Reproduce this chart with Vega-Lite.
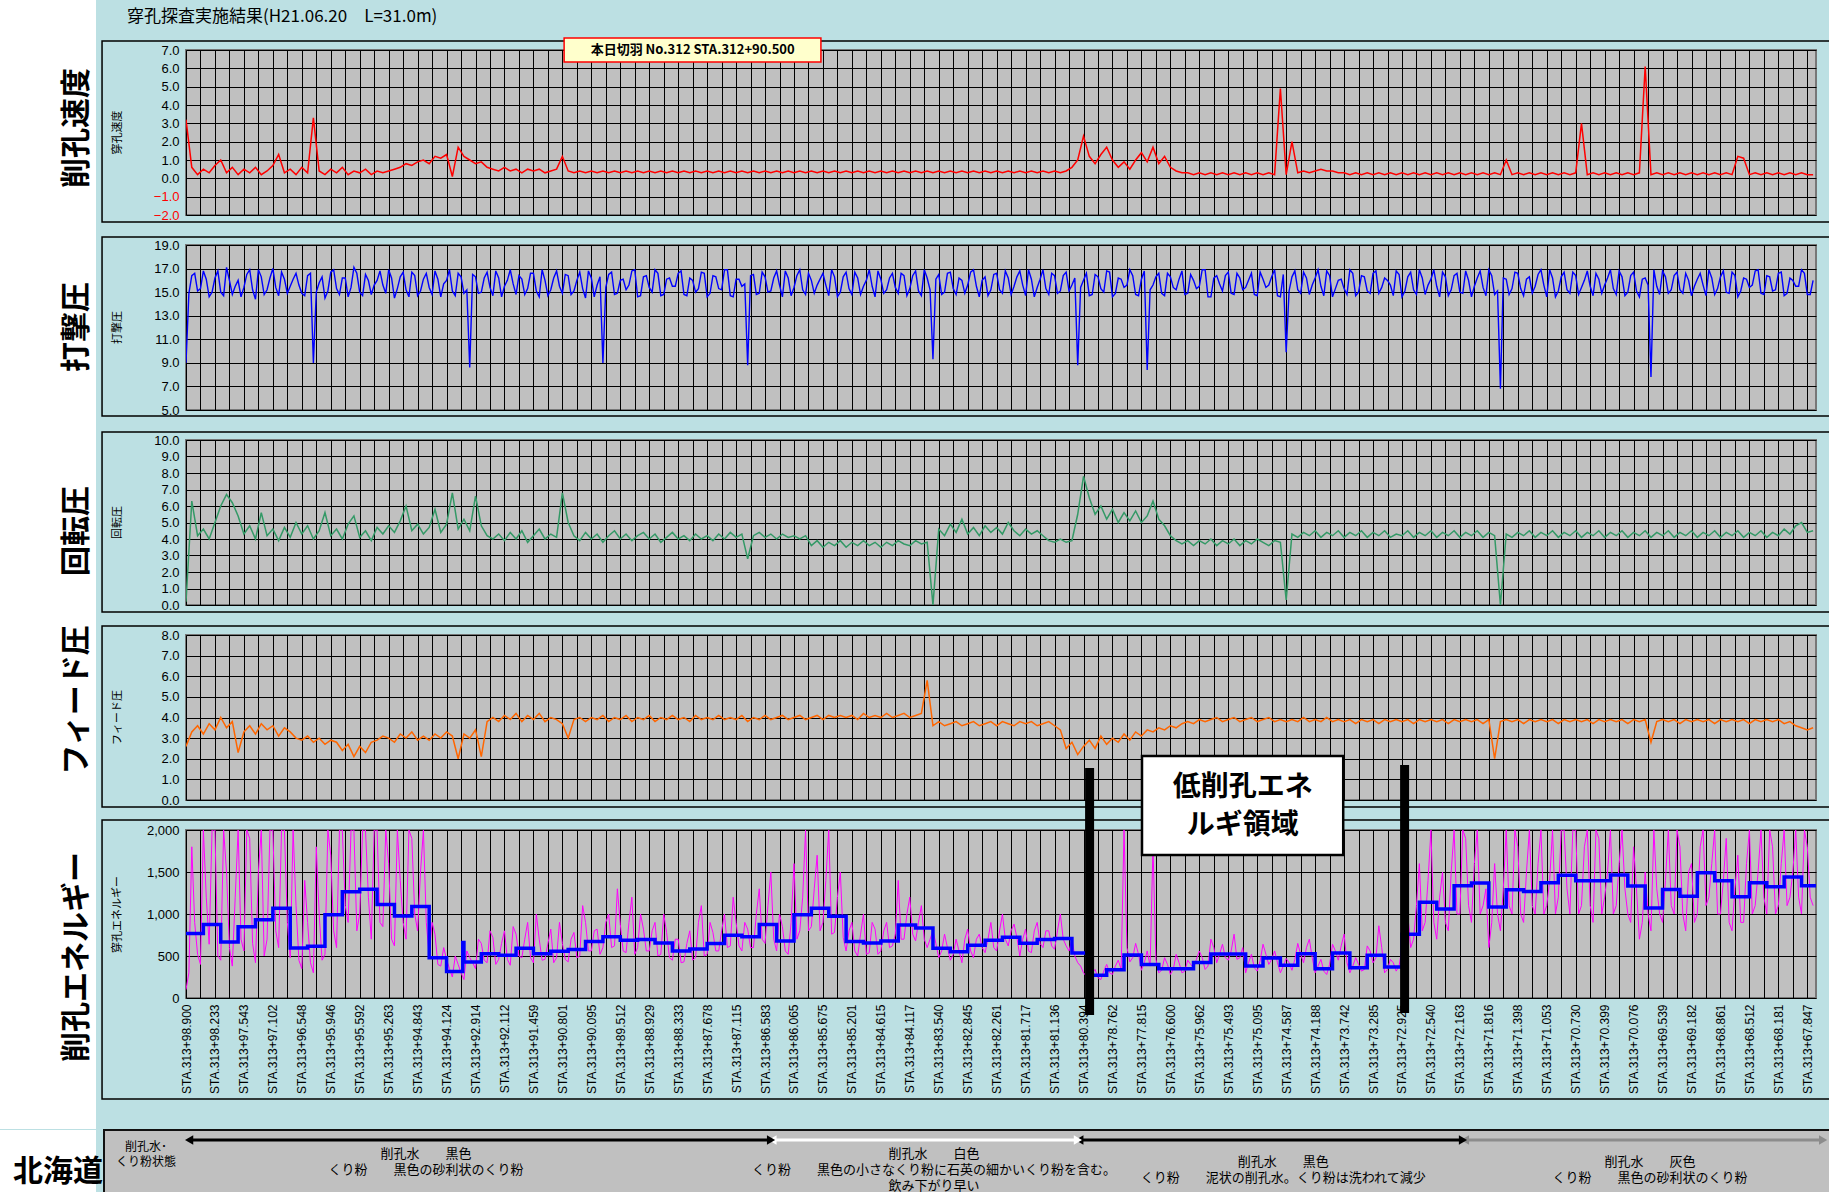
{
"$schema": "https://vega.github.io/schema/vega-lite/v6.json",
"background": "#bce0e3",
"padding": 0,
"config": {"view": {"stroke": null}, "axis": {"labelFont": "Liberation Sans", "titleFont": "Noto Sans CJK JP"}, "axisY": {"labelOverlap": false, "tickCount": 20}, "text": {"font": "Noto Sans CJK JP"}, "title": {"font": "Noto Sans CJK JP"}},
"datasets": {
"d": [
{"i":0,"s":3.2,"p":9.0,"r":0.2,"f":2.6,"e":100},
{"i":0.2,"s":0.6,"p":16.4,"r":6.3,"f":3.3,"e":1800},
{"i":0.4,"s":0.2,"p":15.1,"r":4.2,"f":3.6,"e":520},
{"i":0.6,"s":0.5,"p":16.8,"r":4.6,"f":3.2,"e":2000},
{"i":0.8,"s":0.3,"p":14.6,"r":4.0,"f":3.7,"e":640},
{"i":1,"s":0.7,"p":16.2,"r":5.0,"f":3.4,"e":2000},
{"i":1.2,"s":1.0,"p":15.0,"r":6.0,"f":4.0,"e":450},
{"i":1.4,"s":0.3,"p":17.1,"r":6.7,"f":3.5,"e":1500},
{"i":1.6,"s":0.6,"p":14.8,"r":6.2,"f":3.8,"e":380},
{"i":1.8,"s":0.2,"p":16.0,"r":5.4,"f":2.3,"e":2000},
{"i":2,"s":0.5,"p":15.4,"r":4.3,"f":3.3,"e":560},
{"i":2.2,"s":0.3,"p":16.9,"r":4.8,"f":3.6,"e":1900},
{"i":2.4,"s":0.6,"p":14.4,"r":4.0,"f":3.2,"e":420},
{"i":2.6,"s":0.2,"p":16.3,"r":5.6,"f":3.7,"e":2000},
{"i":2.8,"s":0.4,"p":15.2,"r":4.2,"f":3.4,"e":700},
{"i":3,"s":0.7,"p":17.0,"r":4.6,"f":3.6,"e":2000},
{"i":3.2,"s":1.3,"p":14.7,"r":3.9,"f":3.1,"e":600},
{"i":3.4,"s":0.3,"p":16.1,"r":4.7,"f":3.5,"e":2000},
{"i":3.6,"s":0.5,"p":15.5,"r":4.1,"f":3.3,"e":480},
{"i":3.8,"s":0.2,"p":16.6,"r":5.0,"f":3.0,"e":1100},
{"i":4,"s":0.6,"p":14.9,"r":4.3,"f":2.9,"e":350},
{"i":4.2,"s":0.3,"p":16.4,"r":4.8,"f":3.1,"e":900},
{"i":4.4,"s":3.3,"p":9.0,"r":4.0,"f":2.8,"e":300},
{"i":4.6,"s":0.4,"p":15.8,"r":4.5,"f":3.0,"e":1000},
{"i":4.8,"s":0.2,"p":14.5,"r":5.6,"f":2.7,"e":520},
{"i":5,"s":0.5,"p":16.7,"r":4.2,"f":2.9,"e":1700},
{"i":5.2,"s":0.3,"p":15.3,"r":4.6,"f":2.8,"e":600},
{"i":5.4,"s":0.6,"p":16.2,"r":4.0,"f":2.4,"e":2000},
{"i":5.6,"s":0.2,"p":14.6,"r":4.9,"f":2.7,"e":900},
{"i":5.8,"s":0.4,"p":17.1,"r":5.4,"f":2.1,"e":2000},
{"i":6,"s":0.3,"p":15.0,"r":4.1,"f":2.6,"e":1000},
{"i":6.2,"s":0.5,"p":16.5,"r":4.5,"f":2.3,"e":2000},
{"i":6.4,"s":0.2,"p":14.8,"r":3.9,"f":2.8,"e":700},
{"i":6.6,"s":0.4,"p":16.0,"r":4.7,"f":2.9,"e":2000},
{"i":6.8,"s":0.3,"p":15.6,"r":4.3,"f":3.1,"e":850},
{"i":7,"s":0.4,"p":16.9,"r":4.8,"f":3.0,"e":1600},
{"i":7.2,"s":0.5,"p":14.5,"r":4.4,"f":2.8,"e":620},
{"i":7.4,"s":0.6,"p":16.3,"r":5.1,"f":3.2,"e":1400},
{"i":7.6,"s":0.8,"p":15.2,"r":6.0,"f":3.0,"e":700},
{"i":7.8,"s":0.7,"p":16.7,"r":4.5,"f":3.3,"e":1900},
{"i":8,"s":0.9,"p":14.7,"r":4.9,"f":2.9,"e":800},
{"i":8.2,"s":1.0,"p":16.1,"r":4.3,"f":3.1,"e":2000},
{"i":8.4,"s":0.8,"p":15.4,"r":4.7,"f":2.9,"e":500},
{"i":8.6,"s":1.2,"p":16.8,"r":5.8,"f":3.2,"e":760},
{"i":8.8,"s":1.1,"p":14.6,"r":4.4,"f":3.0,"e":380},
{"i":9,"s":1.3,"p":16.0,"r":4.9,"f":3.3,"e":460},
{"i":9.2,"s":0.1,"p":15.1,"r":6.8,"f":3.1,"e":250},
{"i":9.4,"s":1.7,"p":16.6,"r":4.6,"f":2.0,"e":400},
{"i":9.6,"s":1.2,"p":14.9,"r":5.2,"f":3.2,"e":220},
{"i":9.8,"s":1.0,"p":8.6,"r":4.5,"f":3.0,"e":480},
{"i":10,"s":0.8,"p":16.3,"r":6.6,"f":3.4,"e":350},
{"i":10.2,"s":0.9,"p":15.0,"r":4.8,"f":2.1,"e":650},
{"i":10.4,"s":0.6,"p":16.7,"r":4.2,"f":3.8,"e":420},
{"i":10.6,"s":0.5,"p":14.7,"r":4.0,"f":4.0,"e":720},
{"i":10.8,"s":0.4,"p":16.2,"r":4.3,"f":3.8,"e":460},
{"i":11,"s":0.6,"p":15.5,"r":3.9,"f":4.1,"e":800},
{"i":11.2,"s":0.4,"p":16.9,"r":4.4,"f":3.9,"e":390},
{"i":11.4,"s":0.5,"p":14.8,"r":4.0,"f":4.2,"e":760},
{"i":11.6,"s":0.3,"p":16.1,"r":4.5,"f":3.8,"e":480},
{"i":11.8,"s":0.5,"p":15.3,"r":3.8,"f":4.1,"e":900},
{"i":12,"s":0.4,"p":16.6,"r":4.2,"f":3.9,"e":420},
{"i":12.2,"s":0.5,"p":14.6,"r":4.6,"f":4.2,"e":700},
{"i":12.4,"s":0.3,"p":16.0,"r":4.0,"f":3.8,"e":460},
{"i":12.6,"s":0.4,"p":15.2,"r":4.3,"f":4.0,"e":820},
{"i":12.8,"s":0.5,"p":16.8,"r":4.1,"f":3.9,"e":480},
{"i":13,"s":1.2,"p":14.9,"r":6.8,"f":3.7,"e":650},
{"i":13.2,"s":0.4,"p":16.4,"r":5.0,"f":3.0,"e":430},
{"i":13.4,"s":0.3,"p":15.1,"r":4.2,"f":3.9,"e":780},
{"i":13.6,"s":0.4,"p":16.7,"r":3.9,"f":4.0,"e":500},
{"i":13.8,"s":0.3,"p":14.5,"r":4.4,"f":3.8,"e":900},
{"i":14,"s":0.4,"p":16.2,"r":4.0,"f":4.0,"e":560},
{"i":14.2,"s":0.3,"p":15.6,"r":4.3,"f":3.9,"e":820},
{"i":14.4,"s":0.4,"p":9.0,"r":3.8,"f":4.1,"e":600},
{"i":14.6,"s":0.3,"p":16.5,"r":4.2,"f":3.8,"e":1000},
{"i":14.8,"s":0.4,"p":14.8,"r":4.5,"f":4.0,"e":620},
{"i":15,"s":0.3,"p":16.0,"r":4.0,"f":3.9,"e":880},
{"i":15.2,"s":0.4,"p":15.2,"r":4.3,"f":4.1,"e":540},
{"i":15.4,"s":0.3,"p":16.8,"r":3.9,"f":3.8,"e":1200},
{"i":15.6,"s":0.4,"p":14.6,"r":4.2,"f":4.0,"e":600},
{"i":15.8,"s":0.3,"p":16.3,"r":4.4,"f":3.9,"e":820},
{"i":16,"s":0.4,"p":15.4,"r":4.0,"f":4.1,"e":560},
{"i":16.2,"s":0.3,"p":16.9,"r":4.3,"f":3.8,"e":900},
{"i":16.4,"s":0.4,"p":14.7,"r":3.8,"f":4.0,"e":520},
{"i":16.6,"s":0.3,"p":16.1,"r":4.1,"f":3.9,"e":780},
{"i":16.8,"s":0.4,"p":15.5,"r":4.4,"f":4.1,"e":450},
{"i":17,"s":0.3,"p":16.6,"r":4.0,"f":3.9,"e":700},
{"i":17.2,"s":0.4,"p":14.8,"r":4.2,"f":4.0,"e":430},
{"i":17.4,"s":0.3,"p":16.2,"r":3.9,"f":3.8,"e":800},
{"i":17.6,"s":0.4,"p":15.0,"r":4.3,"f":4.1,"e":480},
{"i":17.8,"s":0.3,"p":16.7,"r":4.0,"f":3.9,"e":1100},
{"i":18,"s":0.4,"p":14.6,"r":4.2,"f":4.0,"e":520},
{"i":18.2,"s":0.3,"p":16.4,"r":3.9,"f":3.9,"e":780},
{"i":18.4,"s":0.4,"p":15.3,"r":4.3,"f":4.1,"e":560},
{"i":18.6,"s":0.3,"p":16.9,"r":4.0,"f":3.9,"e":1000},
{"i":18.8,"s":0.4,"p":14.7,"r":4.4,"f":4.0,"e":620},
{"i":19,"s":0.3,"p":16.1,"r":4.1,"f":3.9,"e":900},
{"i":19.2,"s":0.4,"p":15.5,"r":4.3,"f":4.1,"e":560},
{"i":19.4,"s":0.3,"p":8.8,"r":2.8,"f":3.8,"e":820},
{"i":19.6,"s":0.4,"p":16.5,"r":4.2,"f":4.0,"e":600},
{"i":19.8,"s":0.3,"p":14.9,"r":4.4,"f":3.9,"e":1300},
{"i":20,"s":0.4,"p":16.3,"r":4.1,"f":4.1,"e":650},
{"i":20.2,"s":0.3,"p":15.1,"r":4.3,"f":3.9,"e":1500},
{"i":20.4,"s":0.4,"p":16.8,"r":4.0,"f":4.0,"e":560},
{"i":20.6,"s":0.3,"p":14.6,"r":4.3,"f":4.1,"e":850},
{"i":20.8,"s":0.4,"p":16.2,"r":4.1,"f":3.9,"e":520},
{"i":21,"s":0.3,"p":15.4,"r":4.2,"f":4.0,"e":1600},
{"i":21.2,"s":0.4,"p":16.9,"r":4.0,"f":4.1,"e":800},
{"i":21.4,"s":0.3,"p":14.8,"r":4.2,"f":3.9,"e":2000},
{"i":21.6,"s":0.4,"p":16.0,"r":3.6,"f":4.0,"e":850},
{"i":21.8,"s":0.3,"p":15.6,"r":3.9,"f":4.1,"e":1700},
{"i":22,"s":0.4,"p":16.6,"r":3.5,"f":3.9,"e":900},
{"i":22.2,"s":0.3,"p":14.7,"r":3.8,"f":4.1,"e":2000},
{"i":22.4,"s":0.4,"p":16.3,"r":3.6,"f":4.0,"e":780},
{"i":22.6,"s":0.3,"p":15.0,"r":3.9,"f":4.1,"e":1500},
{"i":22.8,"s":0.4,"p":16.7,"r":3.5,"f":4.0,"e":560},
{"i":23,"s":0.3,"p":14.8,"r":3.8,"f":4.1,"e":900},
{"i":23.2,"s":0.4,"p":16.2,"r":3.6,"f":3.9,"e":500},
{"i":23.4,"s":0.3,"p":15.5,"r":3.9,"f":4.2,"e":1000},
{"i":23.6,"s":0.4,"p":16.9,"r":3.6,"f":4.0,"e":540},
{"i":23.8,"s":0.3,"p":14.6,"r":3.8,"f":4.1,"e":820},
{"i":24,"s":0.4,"p":16.1,"r":3.5,"f":4.0,"e":560},
{"i":24.2,"s":0.3,"p":15.2,"r":3.8,"f":4.2,"e":900},
{"i":24.4,"s":0.4,"p":16.6,"r":3.6,"f":4.0,"e":620},
{"i":24.6,"s":0.3,"p":14.9,"r":3.9,"f":4.1,"e":1400},
{"i":24.8,"s":0.4,"p":16.4,"r":3.7,"f":4.2,"e":700},
{"i":25,"s":0.3,"p":15.3,"r":3.6,"f":4.0,"e":1200},
{"i":25.2,"s":0.4,"p":16.8,"r":3.9,"f":4.1,"e":680},
{"i":25.4,"s":0.3,"p":14.7,"r":3.7,"f":4.2,"e":1100},
{"i":25.6,"s":0.4,"p":16.2,"r":3.8,"f":5.8,"e":600},
{"i":25.8,"s":0.3,"p":9.3,"r":0.0,"f":3.6,"e":800},
{"i":26,"s":0.4,"p":16.5,"r":4.6,"f":3.8,"e":480},
{"i":26.2,"s":0.3,"p":15.0,"r":4.2,"f":3.6,"e":760},
{"i":26.4,"s":0.4,"p":16.7,"r":4.9,"f":3.7,"e":450},
{"i":26.6,"s":0.3,"p":14.8,"r":4.4,"f":3.8,"e":700},
{"i":26.8,"s":0.4,"p":16.0,"r":5.2,"f":3.6,"e":420},
{"i":27,"s":0.3,"p":15.6,"r":4.3,"f":3.7,"e":820},
{"i":27.2,"s":0.4,"p":16.9,"r":4.7,"f":3.8,"e":480},
{"i":27.4,"s":0.3,"p":14.6,"r":4.2,"f":3.6,"e":760},
{"i":27.6,"s":0.4,"p":16.3,"r":4.8,"f":3.7,"e":540},
{"i":27.8,"s":0.3,"p":15.2,"r":4.4,"f":3.8,"e":900},
{"i":28,"s":0.4,"p":16.6,"r":4.7,"f":3.6,"e":560},
{"i":28.2,"s":0.3,"p":14.9,"r":4.3,"f":3.8,"e":1000},
{"i":28.4,"s":0.4,"p":16.2,"r":5.0,"f":3.7,"e":620},
{"i":28.6,"s":0.3,"p":15.5,"r":4.5,"f":3.6,"e":880},
{"i":28.8,"s":0.4,"p":16.8,"r":4.2,"f":3.8,"e":500},
{"i":29,"s":0.3,"p":14.7,"r":4.6,"f":3.7,"e":820},
{"i":29.2,"s":0.4,"p":16.1,"r":4.3,"f":3.8,"e":540},
{"i":29.4,"s":0.3,"p":15.4,"r":4.5,"f":3.6,"e":900},
{"i":29.6,"s":0.4,"p":16.9,"r":4.2,"f":3.7,"e":600},
{"i":29.8,"s":0.3,"p":14.8,"r":3.9,"f":3.8,"e":800},
{"i":30,"s":0.4,"p":16.4,"r":3.8,"f":3.6,"e":580},
{"i":30.2,"s":0.3,"p":15.1,"r":4.0,"f":3.4,"e":1000},
{"i":30.4,"s":0.4,"p":16.7,"r":3.8,"f":2.5,"e":620},
{"i":30.6,"s":0.6,"p":15.6,"r":3.9,"f":2.8,"e":700},
{"i":30.8,"s":1.0,"p":8.8,"r":5.5,"f":2.2,"e":420},
{"i":31,"s":2.3,"p":16.0,"r":7.8,"f":2.6,"e":300},
{"i":31.2,"s":1.2,"p":14.7,"r":6.5,"f":2.9,"e":200},
{"i":31.4,"s":0.8,"p":16.5,"r":5.5,"f":2.5,"e":340},
{"i":31.6,"s":1.3,"p":15.3,"r":6.0,"f":3.1,"e":220},
{"i":31.8,"s":1.7,"p":16.8,"r":5.2,"f":2.7,"e":400},
{"i":32,"s":1.0,"p":14.6,"r":5.8,"f":3.0,"e":280},
{"i":32.2,"s":0.6,"p":16.2,"r":5.0,"f":2.8,"e":450},
{"i":32.4,"s":0.9,"p":15.4,"r":5.6,"f":3.2,"e":2000},
{"i":32.6,"s":0.5,"p":16.9,"r":5.1,"f":2.9,"e":430},
{"i":32.8,"s":1.0,"p":14.8,"r":5.7,"f":3.3,"e":650},
{"i":33,"s":1.4,"p":16.1,"r":5.0,"f":3.1,"e":330},
{"i":33.2,"s":0.9,"p":8.4,"r":5.4,"f":3.4,"e":560},
{"i":33.4,"s":1.7,"p":15.6,"r":6.3,"f":3.3,"e":1800},
{"i":33.6,"s":0.8,"p":16.6,"r":5.2,"f":3.5,"e":300},
{"i":33.8,"s":1.2,"p":14.7,"r":4.8,"f":3.4,"e":480},
{"i":34,"s":0.6,"p":16.3,"r":4.2,"f":3.6,"e":280},
{"i":34.2,"s":0.4,"p":15.2,"r":3.9,"f":3.5,"e":520},
{"i":34.4,"s":0.3,"p":16.8,"r":3.7,"f":3.7,"e":300},
{"i":34.6,"s":0.3,"p":14.9,"r":3.9,"f":3.8,"e":450},
{"i":34.8,"s":0.2,"p":16.0,"r":3.6,"f":3.7,"e":360},
{"i":35,"s":0.3,"p":15.5,"r":3.9,"f":3.9,"e":560},
{"i":35.2,"s":0.2,"p":16.9,"r":3.7,"f":3.8,"e":340},
{"i":35.4,"s":0.3,"p":14.6,"r":4.0,"f":3.9,"e":700},
{"i":35.6,"s":0.2,"p":16.4,"r":3.6,"f":4.0,"e":420},
{"i":35.8,"s":0.3,"p":15.1,"r":3.9,"f":3.8,"e":640},
{"i":36,"s":0.2,"p":16.7,"r":3.7,"f":3.9,"e":450},
{"i":36.2,"s":0.3,"p":14.8,"r":4.0,"f":4.0,"e":760},
{"i":36.4,"s":0.2,"p":16.2,"r":3.6,"f":3.8,"e":480},
{"i":36.6,"s":0.3,"p":15.4,"r":3.9,"f":3.9,"e":300},
{"i":36.8,"s":0.2,"p":16.6,"r":3.7,"f":4.0,"e":520},
{"i":37,"s":0.3,"p":14.7,"r":4.0,"f":3.8,"e":320},
{"i":37.2,"s":0.2,"p":16.1,"r":3.8,"f":3.9,"e":640},
{"i":37.4,"s":0.3,"p":15.6,"r":3.6,"f":4.0,"e":400},
{"i":37.6,"s":0.2,"p":16.9,"r":3.9,"f":3.8,"e":560},
{"i":37.8,"s":4.9,"p":14.6,"r":3.8,"f":3.9,"e":300},
{"i":38,"s":0.2,"p":9.9,"r":0.3,"f":3.8,"e":470},
{"i":38.2,"s":2.0,"p":16.3,"r":4.3,"f":3.9,"e":330},
{"i":38.4,"s":0.3,"p":15.2,"r":4.1,"f":3.8,"e":650},
{"i":38.6,"s":0.4,"p":16.7,"r":4.4,"f":4.0,"e":420},
{"i":38.8,"s":0.3,"p":14.8,"r":4.2,"f":3.8,"e":700},
{"i":39,"s":0.4,"p":16.2,"r":4.5,"f":3.9,"e":300},
{"i":39.2,"s":0.5,"p":15.5,"r":4.1,"f":3.8,"e":460},
{"i":39.4,"s":0.4,"p":16.8,"r":4.4,"f":4.0,"e":280},
{"i":39.6,"s":0.4,"p":14.6,"r":4.2,"f":3.8,"e":640},
{"i":39.8,"s":0.3,"p":16.0,"r":4.5,"f":3.9,"e":450},
{"i":40,"s":0.3,"p":15.3,"r":4.1,"f":3.8,"e":760},
{"i":40.2,"s":0.2,"p":16.9,"r":4.4,"f":3.9,"e":300},
{"i":40.4,"s":0.3,"p":14.7,"r":4.2,"f":3.7,"e":480},
{"i":40.6,"s":0.2,"p":16.4,"r":4.5,"f":3.9,"e":320},
{"i":40.8,"s":0.3,"p":15.1,"r":4.1,"f":3.8,"e":620},
{"i":41,"s":0.2,"p":16.6,"r":4.4,"f":3.9,"e":420},
{"i":41.2,"s":0.3,"p":14.9,"r":4.2,"f":3.7,"e":860},
{"i":41.4,"s":0.2,"p":16.2,"r":4.5,"f":3.9,"e":300},
{"i":41.6,"s":0.3,"p":15.6,"r":4.1,"f":3.8,"e":460},
{"i":41.8,"s":0.2,"p":16.8,"r":4.3,"f":3.9,"e":320},
{"i":42,"s":0.3,"p":14.6,"r":4.2,"f":3.8,"e":600},
{"i":42.2,"s":0.2,"p":16.3,"r":4.5,"f":3.9,"e":1000},
{"i":42.4,"s":0.3,"p":15.2,"r":4.1,"f":3.7,"e":700},
{"i":42.6,"s":0.2,"p":16.9,"r":4.4,"f":3.9,"e":1600},
{"i":42.8,"s":0.3,"p":14.8,"r":4.2,"f":3.8,"e":900},
{"i":43,"s":0.2,"p":16.1,"r":4.5,"f":3.9,"e":2000},
{"i":43.2,"s":0.3,"p":15.5,"r":4.1,"f":3.8,"e":700},
{"i":43.4,"s":0.2,"p":16.7,"r":4.4,"f":3.9,"e":1500},
{"i":43.6,"s":0.3,"p":14.7,"r":4.2,"f":3.7,"e":800},
{"i":43.8,"s":0.2,"p":16.4,"r":4.5,"f":3.9,"e":2000},
{"i":44,"s":0.3,"p":15.0,"r":4.1,"f":3.8,"e":1000},
{"i":44.2,"s":0.2,"p":16.8,"r":4.4,"f":3.9,"e":1900},
{"i":44.4,"s":0.3,"p":14.6,"r":4.2,"f":3.8,"e":900},
{"i":44.6,"s":0.2,"p":16.2,"r":4.5,"f":3.9,"e":2000},
{"i":44.8,"s":0.3,"p":15.4,"r":4.1,"f":3.7,"e":1100},
{"i":45,"s":0.2,"p":16.9,"r":4.4,"f":3.9,"e":600},
{"i":45.2,"s":0.3,"p":14.8,"r":4.2,"f":2.0,"e":1600},
{"i":45.4,"s":0.2,"p":6.8,"r":0.0,"f":3.8,"e":800},
{"i":45.6,"s":1.0,"p":16.1,"r":4.3,"f":3.9,"e":2000},
{"i":45.8,"s":0.2,"p":15.3,"r":4.1,"f":3.8,"e":1000},
{"i":46,"s":0.3,"p":16.6,"r":4.4,"f":3.9,"e":1800},
{"i":46.2,"s":0.2,"p":14.7,"r":4.2,"f":3.7,"e":900},
{"i":46.4,"s":0.3,"p":16.3,"r":4.5,"f":3.9,"e":2000},
{"i":46.6,"s":0.2,"p":15.5,"r":4.1,"f":3.8,"e":1000},
{"i":46.8,"s":0.3,"p":16.9,"r":4.4,"f":3.9,"e":2000},
{"i":47,"s":0.2,"p":14.6,"r":4.2,"f":3.8,"e":1100},
{"i":47.2,"s":0.3,"p":16.2,"r":4.5,"f":3.9,"e":2000},
{"i":47.4,"s":0.2,"p":15.1,"r":4.1,"f":3.7,"e":1200},
{"i":47.6,"s":0.3,"p":16.7,"r":4.4,"f":3.9,"e":2000},
{"i":47.8,"s":0.2,"p":14.9,"r":4.2,"f":3.8,"e":1000},
{"i":48,"s":0.3,"p":16.4,"r":4.5,"f":3.9,"e":2000},
{"i":48.2,"s":3.0,"p":15.4,"r":4.1,"f":3.8,"e":1100},
{"i":48.4,"s":0.2,"p":16.8,"r":4.4,"f":3.9,"e":2000},
{"i":48.6,"s":0.3,"p":14.7,"r":4.2,"f":3.7,"e":900},
{"i":48.8,"s":0.2,"p":16.1,"r":4.5,"f":3.9,"e":1900},
{"i":49,"s":0.3,"p":15.6,"r":4.1,"f":3.8,"e":1200},
{"i":49.2,"s":0.2,"p":16.9,"r":4.4,"f":3.9,"e":2000},
{"i":49.4,"s":0.3,"p":14.8,"r":4.2,"f":3.8,"e":1100},
{"i":49.6,"s":0.2,"p":16.3,"r":4.5,"f":3.9,"e":2000},
{"i":49.8,"s":0.3,"p":15.0,"r":4.1,"f":3.7,"e":1000},
{"i":50,"s":0.2,"p":16.7,"r":4.4,"f":3.9,"e":1800},
{"i":50.2,"s":0.3,"p":14.6,"r":4.2,"f":3.8,"e":700},
{"i":50.4,"s":6.1,"p":16.2,"r":4.5,"f":3.9,"e":1500},
{"i":50.6,"s":0.2,"p":7.8,"r":4.1,"f":2.8,"e":800},
{"i":50.8,"s":0.3,"p":15.5,"r":4.4,"f":3.8,"e":1300},
{"i":51,"s":0.2,"p":16.8,"r":4.2,"f":3.9,"e":900},
{"i":51.2,"s":0.3,"p":14.9,"r":4.5,"f":3.8,"e":2000},
{"i":51.4,"s":0.2,"p":16.4,"r":4.1,"f":3.9,"e":1000},
{"i":51.6,"s":0.3,"p":15.2,"r":4.4,"f":3.7,"e":1800},
{"i":51.8,"s":0.2,"p":16.6,"r":4.2,"f":3.9,"e":800},
{"i":52,"s":0.3,"p":14.7,"r":4.5,"f":3.8,"e":1600},
{"i":52.2,"s":0.2,"p":16.1,"r":4.1,"f":3.9,"e":1000},
{"i":52.4,"s":0.3,"p":15.6,"r":4.4,"f":3.8,"e":2000},
{"i":52.6,"s":0.2,"p":16.9,"r":4.2,"f":3.9,"e":1200},
{"i":52.8,"s":0.3,"p":14.8,"r":4.5,"f":3.7,"e":2000},
{"i":53,"s":0.2,"p":16.3,"r":4.1,"f":3.9,"e":1000},
{"i":53.2,"s":0.3,"p":15.0,"r":4.4,"f":3.8,"e":1900},
{"i":53.4,"s":0.2,"p":16.7,"r":4.2,"f":3.9,"e":800},
{"i":53.6,"s":1.2,"p":14.6,"r":4.5,"f":3.8,"e":1700},
{"i":53.8,"s":1.1,"p":16.2,"r":4.1,"f":3.9,"e":900},
{"i":54,"s":0.2,"p":15.4,"r":4.4,"f":3.7,"e":2000},
{"i":54.2,"s":0.3,"p":16.8,"r":4.2,"f":3.9,"e":1100},
{"i":54.4,"s":0.2,"p":14.9,"r":4.5,"f":3.8,"e":2000},
{"i":54.6,"s":0.3,"p":16.4,"r":4.1,"f":3.9,"e":1000},
{"i":54.8,"s":0.2,"p":15.1,"r":4.4,"f":3.8,"e":1800},
{"i":55,"s":0.3,"p":16.6,"r":4.2,"f":3.9,"e":1100},
{"i":55.2,"s":0.2,"p":14.7,"r":4.6,"f":3.7,"e":2000},
{"i":55.4,"s":0.3,"p":16.2,"r":4.3,"f":3.8,"e":1200},
{"i":55.6,"s":0.2,"p":15.5,"r":4.8,"f":3.6,"e":2000},
{"i":55.8,"s":0.3,"p":16.9,"r":5.0,"f":3.5,"e":1000},
{"i":56,"s":0.2,"p":14.8,"r":4.4,"f":3.4,"e":1800},
{"i":56.2,"s":0.2,"p":16.0,"r":4.5,"f":3.5,"e":1100},
{"i":0.1,"p":14.9,"e":300},{"i":0.3,"p":16.6,"e":900},{"i":0.5,"p":15.3,"e":400},{"i":0.7,"p":16.1,"e":1200},{"i":0.9,"p":15.0,"e":2000},
{"i":1.1,"p":16.8,"e":500},{"i":1.3,"p":14.7,"e":2000},{"i":1.5,"p":16.0,"e":600},{"i":1.7,"p":15.5,"e":1200},{"i":1.9,"p":14.6,"e":700},
{"i":2.1,"p":16.5,"e":2000},{"i":2.3,"p":15.2,"e":650},{"i":2.5,"p":16.9,"e":1500},{"i":2.7,"p":14.8,"e":500},{"i":2.9,"p":16.2,"e":2000},
{"i":3.1,"p":15.4,"e":800},{"i":3.3,"p":16.7,"e":2000},{"i":3.5,"p":14.9,"e":900},{"i":3.7,"p":16.1,"e":2000},{"i":3.9,"p":15.6,"e":450},
{"i":4.1,"p":14.7,"e":1400},{"i":4.3,"p":16.6,"e":420},{"i":4.5,"p":15.0,"e":1800},{"i":4.7,"p":16.3,"e":450},{"i":4.9,"p":15.1,"e":2000},
{"i":5.1,"p":16.9,"e":800},{"i":5.3,"p":14.8,"e":2000},{"i":5.5,"p":16.2,"e":1100},{"i":5.7,"p":15.4,"e":2000},{"i":5.9,"p":16.6,"e":800},
{"i":6.1,"p":14.7,"e":2000},{"i":6.3,"p":16.0,"e":1200},{"i":6.5,"p":15.6,"e":2000},{"i":6.7,"p":16.8,"e":900},{"i":6.9,"p":14.9,"e":2000},
{"i":7.1,"p":16.2,"e":700},{"i":7.3,"p":15.3,"e":2000},{"i":7.5,"p":16.7,"e":900},{"i":7.7,"p":14.6,"e":2000},{"i":7.9,"p":16.4,"e":1000},
{"i":8.1,"p":15.1,"e":1500},{"i":8.3,"p":16.6,"e":900},{"i":8.5,"p":14.8,"e":900},{"i":8.7,"p":16.1,"e":400},{"i":8.9,"p":15.7,"e":600},
{"i":9.1,"p":16.9,"e":350},{"i":9.3,"p":14.7,"e":500},{"i":9.5,"p":16.3,"e":300},{"i":9.7,"p":15.2,"e":560},{"i":9.9,"p":16.5,"e":420},
{"i":10.1,"p":14.9,"e":700},{"i":10.3,"p":16.2,"e":450},{"i":10.5,"p":15.4,"e":800},{"i":10.7,"p":16.8,"e":400},{"i":10.9,"p":14.6,"e":650},
{"i":11.1,"p":16.0,"e":460},{"i":11.3,"p":15.7,"e":850},{"i":11.5,"p":16.4,"e":500},{"i":11.7,"p":14.8,"e":700},{"i":11.9,"p":16.6,"e":480},
{"i":12.1,"p":15.1,"e":1000},{"i":12.3,"p":16.9,"e":450},{"i":12.5,"p":14.7,"e":650},{"i":12.7,"p":16.2,"e":420},{"i":12.9,"p":15.5,"e":900},
{"i":13.1,"p":16.5,"e":460},{"i":13.3,"p":14.8,"e":700},{"i":13.5,"p":16.0,"e":480},{"i":13.7,"p":15.3,"e":1100},{"i":13.9,"p":16.8,"e":560},
{"i":14.1,"p":14.6,"e":800},{"i":14.3,"p":16.3,"e":520},{"i":14.5,"p":15.4,"e":900},{"i":14.7,"p":16.7,"e":600},{"i":14.9,"p":14.9,"e":1300},
{"i":15.1,"p":16.1,"e":560},{"i":15.3,"p":15.6,"e":900},{"i":15.5,"p":16.9,"e":520},{"i":15.7,"p":14.7,"e":1000},{"i":15.9,"p":16.4,"e":560},
{"i":16.1,"p":15.0,"e":800},{"i":16.3,"p":16.6,"e":500},{"i":16.5,"p":14.8,"e":1000},{"i":16.7,"p":16.2,"e":480},{"i":16.9,"p":15.5,"e":700},
{"i":17.1,"p":16.8,"e":420},{"i":17.3,"p":14.7,"e":650},{"i":17.5,"p":16.0,"e":450},{"i":17.7,"p":15.3,"e":900},{"i":17.9,"p":16.6,"e":500},
{"i":18.1,"p":14.9,"e":900},{"i":18.3,"p":16.3,"e":560},{"i":18.5,"p":15.2,"e":800},{"i":18.7,"p":16.9,"e":600},{"i":18.9,"p":14.6,"e":1200},
{"i":19.1,"p":16.1,"e":620},{"i":19.3,"p":15.7,"e":900},{"i":19.5,"p":16.4,"e":600},{"i":19.7,"p":14.8,"e":1000},{"i":19.9,"p":16.7,"e":700},
{"i":20.1,"p":15.0,"e":1100},{"i":20.3,"p":16.2,"e":700},{"i":20.5,"p":15.6,"e":1000},{"i":20.7,"p":16.8,"e":560},{"i":20.9,"p":14.7,"e":900},
{"i":21.1,"p":16.4,"e":700},{"i":21.3,"p":15.2,"e":1200},{"i":21.5,"p":16.6,"e":800},{"i":21.7,"p":14.9,"e":1300},{"i":21.9,"p":16.1,"e":800},
{"i":22.1,"p":15.6,"e":1400},{"i":22.3,"p":16.9,"e":760},{"i":22.5,"p":14.6,"e":1200},{"i":22.7,"p":16.3,"e":720},{"i":22.9,"p":15.3,"e":800},
{"i":23.1,"p":16.7,"e":560},{"i":23.3,"p":14.8,"e":760},{"i":23.5,"p":16.0,"e":520},{"i":23.7,"p":15.5,"e":900},{"i":23.9,"p":16.8,"e":520},
{"i":24.1,"p":14.9,"e":800},{"i":24.3,"p":16.2,"e":600},{"i":24.5,"p":15.4,"e":760},{"i":24.7,"p":16.6,"e":700},{"i":24.9,"p":14.7,"e":1000},
{"i":25.1,"p":16.4,"e":760},{"i":25.3,"p":15.1,"e":900},{"i":25.5,"p":16.9,"e":700},{"i":25.7,"p":15.2,"e":700},{"i":25.9,"p":16.1,"e":650},
{"i":26.1,"p":14.8,"e":560},{"i":26.3,"p":16.6,"e":600},{"i":26.5,"p":15.3,"e":520},{"i":26.7,"p":16.2,"e":560},{"i":26.9,"p":14.9,"e":700},
{"i":27.1,"p":16.7,"e":560},{"i":27.3,"p":15.5,"e":700},{"i":27.5,"p":16.0,"e":600},{"i":27.7,"p":14.7,"e":700},{"i":27.9,"p":16.5,"e":600},
{"i":28.1,"p":15.2,"e":800},{"i":28.3,"p":16.8,"e":700},{"i":28.5,"p":14.8,"e":800},{"i":28.7,"p":16.3,"e":720},{"i":28.9,"p":15.6,"e":700},
{"i":29.1,"p":16.9,"e":560},{"i":29.3,"p":14.6,"e":800},{"i":29.5,"p":16.1,"e":650},{"i":29.7,"p":15.3,"e":800},{"i":29.9,"p":16.6,"e":620},
{"i":30.1,"p":14.9,"e":800},{"i":30.3,"p":16.4,"e":700},{"i":30.5,"p":15.1,"e":560},{"i":30.7,"p":16.2,"e":500},{"i":30.9,"p":15.4,"e":380},
{"i":31.1,"p":16.6,"e":260},{"i":31.3,"p":14.8,"e":300},{"i":31.5,"p":16.3,"e":240},{"i":31.7,"p":15.0,"e":320},{"i":31.9,"p":16.7,"e":300},
{"i":32.1,"p":14.9,"e":380},{"i":32.3,"p":16.1,"e":340},{"i":32.5,"p":15.6,"e":600},{"i":32.7,"p":16.4,"e":480},{"i":32.9,"p":14.7,"e":520},
{"i":33.1,"p":16.8,"e":420},{"i":33.3,"p":15.2,"e":380},{"i":33.5,"p":16.3,"e":460},{"i":33.7,"p":14.9,"e":330},{"i":33.9,"p":16.6,"e":400},
{"i":34.1,"p":15.4,"e":340},{"i":34.3,"p":16.1,"e":420},{"i":34.5,"p":14.8,"e":320},{"i":34.7,"p":16.5,"e":400},{"i":34.9,"p":15.3,"e":460},
{"i":35.1,"p":16.9,"e":480},{"i":35.3,"p":14.6,"e":380},{"i":35.5,"p":16.2,"e":600},{"i":35.7,"p":15.7,"e":520},{"i":35.9,"p":16.4,"e":480},
{"i":36.1,"p":14.9,"e":560},{"i":36.3,"p":16.6,"e":460},{"i":36.5,"p":15.2,"e":600},{"i":36.7,"p":16.0,"e":420},{"i":36.9,"p":14.8,"e":360},
{"i":37.1,"p":16.7,"e":440},{"i":37.3,"p":15.4,"e":520},{"i":37.5,"p":16.3,"e":460},{"i":37.7,"p":14.7,"e":420},{"i":37.9,"p":16.5,"e":380},
{"i":38.1,"p":15.1,"e":420},{"i":38.3,"p":16.8,"e":460},{"i":38.5,"p":14.9,"e":520},{"i":38.7,"p":16.2,"e":600},{"i":38.9,"p":15.6,"e":480},
{"i":39.1,"p":16.9,"e":380},{"i":39.3,"p":14.7,"e":320},{"i":39.5,"p":16.4,"e":400},{"i":39.7,"p":15.3,"e":560},{"i":39.9,"p":16.1,"e":620},
{"i":40.1,"p":14.8,"e":420},{"i":40.3,"p":16.6,"e":380},{"i":40.5,"p":15.0,"e":400},{"i":40.7,"p":16.3,"e":340},{"i":40.9,"p":14.9,"e":560},
{"i":41.1,"p":16.8,"e":480},{"i":41.3,"p":15.4,"e":600},{"i":41.5,"p":16.0,"e":340},{"i":41.7,"p":14.7,"e":420},{"i":41.9,"p":16.5,"e":380},
{"i":42.1,"p":15.1,"e":900},{"i":42.3,"p":16.7,"e":600},{"i":42.5,"p":14.8,"e":1100},{"i":42.7,"p":16.2,"e":800},{"i":42.9,"p":15.6,"e":1400},
{"i":43.1,"p":16.9,"e":900},{"i":43.3,"p":14.6,"e":1200},{"i":43.5,"p":16.3,"e":900},{"i":43.7,"p":15.2,"e":1500},{"i":43.9,"p":16.6,"e":1000},
{"i":44.1,"p":14.9,"e":2000},{"i":44.3,"p":16.0,"e":1100},{"i":44.5,"p":15.5,"e":1600},{"i":44.7,"p":16.8,"e":1000},{"i":44.9,"p":14.7,"e":1300},
{"i":45.1,"p":16.4,"e":900},{"i":45.3,"p":15.1,"e":1000},{"i":45.5,"p":16.2,"e":1300},{"i":45.7,"p":14.8,"e":1100},{"i":45.9,"p":16.7,"e":2000},
{"i":46.1,"p":15.3,"e":1000},{"i":46.3,"p":16.1,"e":1500},{"i":46.5,"p":14.9,"e":1100},{"i":46.7,"p":16.5,"e":1600},{"i":46.9,"p":15.6,"e":1000},
{"i":47.1,"p":16.9,"e":1400},{"i":47.3,"p":14.6,"e":1000},{"i":47.5,"p":16.3,"e":2000},{"i":47.7,"p":15.2,"e":1300},{"i":47.9,"p":16.7,"e":2000},
{"i":48.1,"p":14.8,"e":1000},{"i":48.3,"p":16.0,"e":1800},{"i":48.5,"p":15.5,"e":1100},{"i":48.7,"p":16.6,"e":2000},{"i":48.9,"p":14.9,"e":1000},
{"i":49.1,"p":16.2,"e":1500},{"i":49.3,"p":15.3,"e":1000},{"i":49.5,"p":16.8,"e":1600},{"i":49.7,"p":14.7,"e":1300},{"i":49.9,"p":16.4,"e":900},
{"i":50.1,"p":15.1,"e":1300},{"i":50.3,"p":16.1,"e":900},{"i":50.5,"p":15.6,"e":1000},{"i":50.7,"p":16.9,"e":2000},{"i":50.9,"p":14.8,"e":1000},
{"i":51.1,"p":16.3,"e":1400},{"i":51.3,"p":15.2,"e":1100},{"i":51.5,"p":16.7,"e":2000},{"i":51.7,"p":14.9,"e":1000},{"i":51.9,"p":16.0,"e":1500},
{"i":52.1,"p":15.5,"e":900},{"i":52.3,"p":16.6,"e":1800},{"i":52.5,"p":14.7,"e":1100},{"i":52.7,"p":16.2,"e":1600},{"i":52.9,"p":15.3,"e":1000},
{"i":53.1,"p":16.8,"e":1400},{"i":53.3,"p":14.9,"e":900},{"i":53.5,"p":16.4,"e":1300},{"i":53.7,"p":15.1,"e":900},{"i":53.9,"p":16.1,"e":1600},
{"i":54.1,"p":15.6,"e":1000},{"i":54.3,"p":16.9,"e":1500},{"i":54.5,"p":14.8,"e":1200},{"i":54.7,"p":16.3,"e":2000},{"i":54.9,"p":15.2,"e":1000},
{"i":55.1,"p":16.7,"e":1600},{"i":55.3,"p":14.9,"e":1100},{"i":55.5,"p":16.0,"e":1500},{"i":55.7,"p":15.5,"e":1200},{"i":55.9,"p":16.6,"e":2000},
{"i":56.1,"p":14.8,"e":1200}
],
"st": [
{"i":0,"v":768},{"i":0.6,"v":876},{"i":1.2,"v":668},{"i":1.8,"v":848},{"i":2.4,"v":932},{"i":3.0,"v":1068},{"i":3.6,"v":596},{"i":4.2,"v":616},{"i":4.8,"v":992},{"i":5.4,"v":1264},{"i":6.0,"v":1296},{"i":6.6,"v":1112},{"i":7.2,"v":976},{"i":7.8,"v":1088},{"i":8.4,"v":480},{"i":9.0,"v":316},{"i":9.56,"v":660},{"i":9.6,"v":428},{"i":10.2,"v":528},{"i":10.8,"v":508},{"i":11.4,"v":592},{"i":12.0,"v":528},{"i":12.6,"v":556},{"i":13.2,"v":576},{"i":13.8,"v":672},{"i":14.4,"v":728},{"i":15.0,"v":688},{"i":15.6,"v":696},{"i":16.2,"v":656},{"i":16.8,"v":560},{"i":17.4,"v":584},{"i":18.0,"v":648},{"i":18.6,"v":748},{"i":19.2,"v":728},{"i":19.8,"v":876},{"i":20.4,"v":680},{"i":21.0,"v":992},{"i":21.6,"v":1068},{"i":22.2,"v":972},{"i":22.8,"v":672},{"i":23.4,"v":656},{"i":24.0,"v":680},{"i":24.6,"v":868},{"i":25.2,"v":832},{"i":25.8,"v":592},{"i":26.4,"v":552},{"i":27.0,"v":628},{"i":27.6,"v":688},{"i":28.2,"v":724},{"i":28.8,"v":652},{"i":29.4,"v":696},{"i":30.0,"v":708},{"i":30.6,"v":536},{"i":31.2,"v":272},{"i":31.8,"v":336},{"i":32.4,"v":512},{"i":33.0,"v":400},{"i":33.6,"v":348},{"i":34.8,"v":424},{"i":35.4,"v":524},{"i":36.6,"v":380},{"i":37.2,"v":476},{"i":37.8,"v":390},{"i":38.4,"v":528},{"i":39.0,"v":348},{"i":39.6,"v":536},{"i":40.2,"v":360},{"i":40.8,"v":508},{"i":41.4,"v":368},{"i":42.0,"v":760},{"i":42.6,"v":1140},{"i":43.2,"v":1060},{"i":43.8,"v":1336},{"i":44.4,"v":1368},{"i":45.0,"v":1084},{"i":45.6,"v":1288},{"i":46.2,"v":1268},{"i":46.8,"v":1372},{"i":47.4,"v":1460},{"i":48.0,"v":1396},{"i":49.2,"v":1464},{"i":49.8,"v":1332},{"i":50.4,"v":1072},{"i":51.0,"v":1292},{"i":51.6,"v":1212},{"i":52.2,"v":1492},{"i":52.8,"v":1396},{"i":53.4,"v":1204},{"i":54.0,"v":1372},{"i":54.6,"v":1324},{"i":55.2,"v":1440},{"i":55.8,"v":1336},{"i":56.3,"v":1336}
],
"arrows": [
{"a":-0.1,"b":20.0,"k":"a"},{"a":20.05,"b":30.6,"k":"b"},{"a":30.65,"b":43.9,"k":"c"},{"a":43.97,"b":56.34,"k":"d"}
]
},
"vconcat": [
{"hconcat": [
 {"vconcat": [
  {"width":96,"height":256,"view":{"fill":"#ffffff","stroke":null},"data":{"values":[{"t":"削孔速度"}]},"mark":{"type":"text","angle":270,"dy":29,"fontSize":30,"fontWeight":"bold","color":"#000000"},"encoding":{"text":{"field":"t","type":"nominal"}}},
  {"width":96,"height":142,"view":{"fill":"#ffffff","stroke":null},"data":{"values":[{"t":"打撃圧"}]},"mark":{"type":"text","angle":270,"dy":29,"fontSize":30,"fontWeight":"bold","color":"#000000"},"encoding":{"text":{"field":"t","type":"nominal"}}},
  {"width":96,"height":86,"view":{"fill":"#ffffff","stroke":null},"data":{"values":[{"t":""}]},"mark":{"type":"text"},"encoding":{"text":{"field":"t","type":"nominal"}}},
  {"width":96,"height":94,"view":{"fill":"#ffffff","stroke":null},"data":{"values":[{"t":"回転圧"}]},"mark":{"type":"text","angle":270,"dy":29,"fontSize":30,"fontWeight":"bold","color":"#000000"},"encoding":{"text":{"field":"t","type":"nominal"}}},
  {"width":96,"height":45,"view":{"fill":"#ffffff","stroke":null},"data":{"values":[{"t":""}]},"mark":{"type":"text"},"encoding":{"text":{"field":"t","type":"nominal"}}},
  {"width":96,"height":154,"view":{"fill":"#ffffff","stroke":null},"data":{"values":[{"t":"フィード圧"}]},"mark":{"type":"text","angle":270,"dy":29,"fontSize":30,"fontWeight":"bold","color":"#000000"},"encoding":{"text":{"field":"t","type":"nominal"}}},
  {"width":96,"height":69,"view":{"fill":"#ffffff","stroke":null},"data":{"values":[{"t":""}]},"mark":{"type":"text"},"encoding":{"text":{"field":"t","type":"nominal"}}},
  {"width":96,"height":222,"view":{"fill":"#ffffff","stroke":null},"data":{"values":[{"t":"削孔エネルギー"}]},"mark":{"type":"text","angle":270,"dy":29,"fontSize":30,"fontWeight":"bold","color":"#000000"},"encoding":{"text":{"field":"t","type":"nominal"}}},
  {"width":96,"height":61,"view":{"fill":"#ffffff","stroke":null},"data":{"values":[{"t":""}]},"mark":{"type":"text"},"encoding":{"text":{"field":"t","type":"nominal"}}}
 ], "spacing": 0, "bounds": "flush"},
 {"vconcat": [
  {"width":1630,"height":20,"data":{"values":[{"t":"穿孔探査実施結果(H21.06.20　L=31.0m)"}]},"mark":{"type":"text","align":"left","dx":-874,"dy":7,"fontSize":17,"color":"#000000"},"encoding":{"text":{"field":"t","type":"nominal"}}},
  {"width":1630,"height":165,"view":{"fill":"#c0c0c0","stroke":"#777777","strokeWidth":2},
   "layer":[
    {"data":{"name":"d"},"transform":[{"filter":"isValid(datum.s)"}],"mark":{"type":"line","color":"#ff0000","strokeWidth":1.5,"clip":true},
     "encoding":{
      "x":{"field":"i","type":"quantitative","scale":{"domain":[0,56.3],"nice":false,"zero":false},"axis":{"title":null,"labels":false,"ticks":false,"domain":false,"grid":true,"gridColor":"#000000","gridWidth":1,"tickCount":113}},
      "y":{"field":"s","type":"quantitative","scale":{"domain":[-2,7],"nice":false,"zero":false},"axis":{"title":"穿孔速度","values":[-2,-1,0,1,2,3,4,5,6,7],"tickCount":20,"format":".1f","labelOverlap":false,"domain":false,"ticks":false,"grid":true,"gridColor":"#000000","gridWidth":1,"labelFontSize":13,"labelPadding":7,"labelColor":{"condition":{"test":"datum.value < 0","value":"#ff0000"},"value":"#000000"},"titleFontSize":11,"titleFontWeight":"normal","titleColor":"#000000","titleX":-64,"titleY":82,"titleAngle":270,"titleAlign":"center","titleBaseline":"bottom"}}
     }},
    {"data":{"values":[{"x0":-2.9,"x1":56.82,"y0":-2.38,"y1":7.49}]},"mark":{"type":"rect","filled":false,"color":"#000000","strokeWidth":1.5},
     "encoding":{"x":{"field":"x0","type":"quantitative"},"x2":{"field":"x1"},"y":{"field":"y0","type":"quantitative"},"y2":{"field":"y1"}}},
    {"data":{"values":[{"x0":13.06,"x1":21.93,"y0":6.35,"y1":7.65,"xm":17.5,"ym":7.0,"t":"本日切羽  No.312  STA.312+90.500"}]},
     "layer":[
      {"mark":{"type":"rect","fill":"#ffffcc","stroke":"#ff0000","strokeWidth":1.5},"encoding":{"x":{"field":"x0","type":"quantitative"},"x2":{"field":"x1"},"y":{"field":"y0","type":"quantitative"},"y2":{"field":"y1"}}},
      {"mark":{"type":"text","fontSize":13,"fontWeight":"bold","color":"#000000"},"encoding":{"x":{"field":"xm","type":"quantitative"},"y":{"field":"ym","type":"quantitative"},"text":{"field":"t","type":"nominal"}}}
     ]}
   ]},
  {"width":1630,"height":165,"view":{"fill":"#c0c0c0","stroke":"#777777","strokeWidth":2},
   "layer":[
    {"data":{"name":"d"},"mark":{"type":"line","color":"#0000ff","strokeWidth":1.4,"clip":true},
     "encoding":{
      "x":{"field":"i","type":"quantitative","scale":{"domain":[0,56.3],"nice":false,"zero":false},"axis":{"title":null,"labels":false,"ticks":false,"domain":false,"grid":true,"gridColor":"#000000","gridWidth":1,"tickCount":113}},
      "y":{"field":"p","type":"quantitative","scale":{"domain":[5,19],"nice":false,"zero":false},"axis":{"title":"打撃圧","values":[5,7,9,11,13,15,17,19],"tickCount":20,"format":".1f","labelOverlap":false,"domain":false,"ticks":false,"grid":true,"gridColor":"#000000","gridWidth":1,"labelFontSize":13,"labelPadding":7,"labelColor":"#000000","titleFontSize":11,"titleFontWeight":"normal","titleColor":"#000000","titleX":-64,"titleY":82,"titleAngle":270,"titleAlign":"center","titleBaseline":"bottom"}}
     }},
    {"data":{"values":[{"x0":-2.9,"x1":56.82,"y0":4.49,"y1":19.68}]},"mark":{"type":"rect","filled":false,"color":"#000000","strokeWidth":1.5},
     "encoding":{"x":{"field":"x0","type":"quantitative"},"x2":{"field":"x1"},"y":{"field":"y0","type":"quantitative"},"y2":{"field":"y1"}}}
   ]},
  {"width":1630,"height":165,"view":{"fill":"#c0c0c0","stroke":"#777777","strokeWidth":2},
   "layer":[
    {"data":{"name":"d"},"transform":[{"filter":"isValid(datum.r)"}],"mark":{"type":"line","color":"#339966","strokeWidth":1.5,"clip":true},
     "encoding":{
      "x":{"field":"i","type":"quantitative","scale":{"domain":[0,56.3],"nice":false,"zero":false},"axis":{"title":null,"labels":false,"ticks":false,"domain":false,"grid":true,"gridColor":"#000000","gridWidth":1,"tickCount":113}},
      "y":{"field":"r","type":"quantitative","scale":{"domain":[0,10],"nice":false,"zero":false},"axis":{"title":"回転圧","values":[0,1,2,3,4,5,6,7,8,9,10],"tickCount":20,"format":".1f","labelOverlap":false,"domain":false,"ticks":false,"grid":true,"gridColor":"#000000","gridWidth":1,"labelFontSize":13,"labelPadding":7,"labelColor":"#000000","titleFontSize":11,"titleFontWeight":"normal","titleColor":"#000000","titleX":-64,"titleY":82,"titleAngle":270,"titleAlign":"center","titleBaseline":"bottom"}}
     }},
    {"data":{"values":[{"x0":-2.9,"x1":56.82,"y0":-0.42,"y1":10.48}]},"mark":{"type":"rect","filled":false,"color":"#000000","strokeWidth":1.5},
     "encoding":{"x":{"field":"x0","type":"quantitative"},"x2":{"field":"x1"},"y":{"field":"y0","type":"quantitative"},"y2":{"field":"y1"}}}
   ]},
  {"width":1630,"height":165,"view":{"fill":"#c0c0c0","stroke":"#777777","strokeWidth":2},
   "layer":[
    {"data":{"name":"d"},"transform":[{"filter":"isValid(datum.f)"}],"mark":{"type":"line","color":"#ff6600","strokeWidth":1.5,"clip":true},
     "encoding":{
      "x":{"field":"i","type":"quantitative","scale":{"domain":[0,56.3],"nice":false,"zero":false},"axis":{"title":null,"labels":false,"ticks":false,"domain":false,"grid":true,"gridColor":"#000000","gridWidth":1,"tickCount":113}},
      "y":{"field":"f","type":"quantitative","scale":{"domain":[0,8],"nice":false,"zero":false},"axis":{"title":"フィード圧","values":[0,1,2,3,4,5,6,7,8],"tickCount":20,"format":".1f","labelOverlap":false,"domain":false,"ticks":false,"grid":true,"gridColor":"#000000","gridWidth":1,"labelFontSize":13,"labelPadding":7,"labelColor":"#000000","titleFontSize":11,"titleFontWeight":"normal","titleColor":"#000000","titleX":-64,"titleY":82,"titleAngle":270,"titleAlign":"center","titleBaseline":"bottom"}}
     }},
    {"data":{"values":[{"x0":-2.9,"x1":56.82,"y0":-0.34,"y1":8.44}]},"mark":{"type":"rect","filled":false,"color":"#000000","strokeWidth":1.5},
     "encoding":{"x":{"field":"x0","type":"quantitative"},"x2":{"field":"x1"},"y":{"field":"y0","type":"quantitative"},"y2":{"field":"y1"}}}
   ]},
  {"width":1630,"height":168,"view":{"fill":"#c0c0c0","stroke":"#777777","strokeWidth":2},
   "layer":[
    {"data":{"name":"d"},"mark":{"type":"line","color":"#ff00ff","strokeWidth":1,"clip":true},
     "encoding":{
      "x":{"field":"i","type":"quantitative","scale":{"domain":[0,56.3],"nice":false,"zero":false},"axis":{"title":null,"ticks":false,"domain":false,"grid":true,"gridColor":"#000000","gridWidth":1,"tickCount":113,"labelAngle":270,"labelFontSize":12,"labelColor":"#000000","labelPadding":6,"labelOverlap":false,"labelFlush":false,"labelBound":false,
        "labelExpr":"datum.value % 1 === 0 ? ['STA.313+98.900','STA.313+98.233','STA.313+97.543','STA.313+97.102','STA.313+96.548','STA.313+95.946','STA.313+95.592','STA.313+95.263','STA.313+94.843','STA.313+94.124','STA.313+92.914','STA.313+92.112','STA.313+91.459','STA.313+90.801','STA.313+90.095','STA.313+89.512','STA.313+88.929','STA.313+88.333','STA.313+87.678','STA.313+87.115','STA.313+86.583','STA.313+86.065','STA.313+85.675','STA.313+85.201','STA.313+84.615','STA.313+84.117','STA.313+83.540','STA.313+82.845','STA.313+82.261','STA.313+81.717','STA.313+81.136','STA.313+80.394','STA.313+78.762','STA.313+77.815','STA.313+76.600','STA.313+75.962','STA.313+75.493','STA.313+75.095','STA.313+74.587','STA.313+74.188','STA.313+73.742','STA.313+73.285','STA.313+72.925','STA.313+72.540','STA.313+72.163','STA.313+71.816','STA.313+71.398','STA.313+71.053','STA.313+70.730','STA.313+70.399','STA.313+70.076','STA.313+69.539','STA.313+69.182','STA.313+68.861','STA.313+68.512','STA.313+68.181','STA.313+67.847'][datum.value] : ''"}},
      "y":{"field":"e","type":"quantitative","scale":{"domain":[0,2000],"nice":false,"zero":false},"axis":{"title":"穿孔エネルギー","values":[0,500,1000,1500,2000],"tickCount":20,"format":",d","labelOverlap":false,"domain":false,"ticks":false,"grid":true,"gridColor":"#000000","gridWidth":1,"labelFontSize":13,"labelPadding":7,"labelColor":"#000000","titleFontSize":11,"titleFontWeight":"normal","titleColor":"#000000","titleX":-64,"titleY":84,"titleAngle":270,"titleAlign":"center","titleBaseline":"bottom"}}
     }},
    {"data":{"name":"st"},"mark":{"type":"line","interpolate":"step-after","color":"#0000ff","strokeWidth":3.5,"clip":true},
     "encoding":{"x":{"field":"i","type":"quantitative"},"y":{"field":"v","type":"quantitative"}}},
    {"data":{"values":[{"x0":-2.9,"x1":56.82,"y0":-1202,"y1":2119}]},"mark":{"type":"rect","filled":false,"color":"#000000","strokeWidth":1.5},
     "encoding":{"x":{"field":"x0","type":"quantitative"},"x2":{"field":"x1"},"y":{"field":"y0","type":"quantitative"},"y2":{"field":"y1"}}},
    {"data":{"values":[{"x0":33.02,"x1":39.97,"y0":1702,"y1":2881,"xm":36.5,"ym":2500,"t":["低削孔エネ","ルギ領域"]}]},
     "layer":[
      {"mark":{"type":"rect","fill":"#ffffff","stroke":"#000000","strokeWidth":2.5},"encoding":{"x":{"field":"x0","type":"quantitative"},"x2":{"field":"x1"},"y":{"field":"y0","type":"quantitative"},"y2":{"field":"y1"}}},
      {"mark":{"type":"text","fontSize":28,"fontWeight":"bold","lineHeight":38,"color":"#000000"},"encoding":{"x":{"field":"xm","type":"quantitative"},"y":{"field":"ym","type":"quantitative"},"text":{"field":"t","type":"nominal"}}}
     ]},
    {"data":{"values":[{"x":31.21,"y0":-202,"y1":2738},{"x":42.09,"y0":-179,"y1":2774}]},"mark":{"type":"rule","color":"#000000","strokeWidth":9,"strokeCap":"butt"},
     "encoding":{"x":{"field":"x","type":"quantitative"},"y":{"field":"y0","type":"quantitative"},"y2":{"field":"y1"}}}
   ]}
 ], "spacing": 30, "bounds": "flush"}
], "spacing": 4},
{"hconcat": [
 {"width":96,"height":63,"view":{"fill":"#ffffff","stroke":null},"data":{"values":[{"t":"北海道"}]},"mark":{"type":"text","fontSize":30,"fontWeight":"bold","dx":10,"dy":10,"color":"#000000"},"encoding":{"text":{"field":"t","type":"nominal"}}},
 {"width":1733,"height":63,"view":{"fill":"#c0c0c0","stroke":"#111111","strokeWidth":2},
  "layer":[
   {"data":{"name":"arrows"},"mark":{"type":"rule","strokeWidth":3},
    "encoding":{"x":{"field":"a","type":"quantitative","scale":{"domain":[-3.04,56.82],"nice":false,"zero":false},"axis":null},"x2":{"field":"b"},
     "y":{"datum":"arrow","type":"nominal","scale":{"type":"point","domain":["arrow","a","b","c"],"range":[10,31.6],"padding":0},"axis":null},
     "color":{"field":"k","type":"nominal","scale":{"domain":["a","b","c","d"],"range":["#000000","#ffffff","#000000","#8c8c8c"]},"legend":null}}},
   {"data":{"name":"arrows"},"mark":{"type":"point","shape":"triangle-left","filled":true,"size":90,"opacity":1,"strokeWidth":0},
    "encoding":{"x":{"field":"a","type":"quantitative"},"y":{"datum":"arrow","type":"nominal"},"color":{"field":"k","type":"nominal","legend":null}}},
   {"data":{"name":"arrows"},"mark":{"type":"point","shape":"triangle-right","filled":true,"size":90,"opacity":1,"strokeWidth":0},
    "encoding":{"x":{"field":"b","type":"quantitative"},"y":{"datum":"arrow","type":"nominal"},"color":{"field":"k","type":"nominal","legend":null}}},
   {"data":{"values":[{"i":-1.59,"t":["削孔水･","くり粉状態"]}]},
    "mark":{"type":"text","fontSize":12,"lineHeight":15,"color":"#000000"},
    "encoding":{"x":{"field":"i","type":"quantitative"},"y":{"datum":"a","type":"nominal"},"text":{"field":"t","type":"nominal"}}},
   {"data":{"values":[
     {"i":8.08,"t":["削孔水　　黒色","くり粉　　黒色の砂利状のくり粉"]},
     {"i":25.63,"t":["削孔水　　白色","くり粉　　黒色の小さなくり粉に石英の細かいくり粉を含む。","飲み下がり早い"]}
    ]},
    "mark":{"type":"text","fontSize":13,"lineHeight":16,"color":"#000000"},
    "encoding":{"x":{"field":"i","type":"quantitative"},"y":{"datum":"b","type":"nominal"},"text":{"field":"t","type":"nominal"}}},
   {"data":{"values":[
     {"i":37.69,"t":["削孔水　　黒色","くり粉　　泥状の削孔水。くり粉は洗われて減少"]},
     {"i":50.36,"t":["削孔水　　灰色","くり粉　　黒色の砂利状のくり粉"]}
    ]},
    "mark":{"type":"text","fontSize":13,"lineHeight":16,"color":"#000000"},
    "encoding":{"x":{"field":"i","type":"quantitative"},"y":{"datum":"c","type":"nominal"},"text":{"field":"t","type":"nominal"}}}
  ]}
], "spacing": 0}
],
"spacing": 0
}
